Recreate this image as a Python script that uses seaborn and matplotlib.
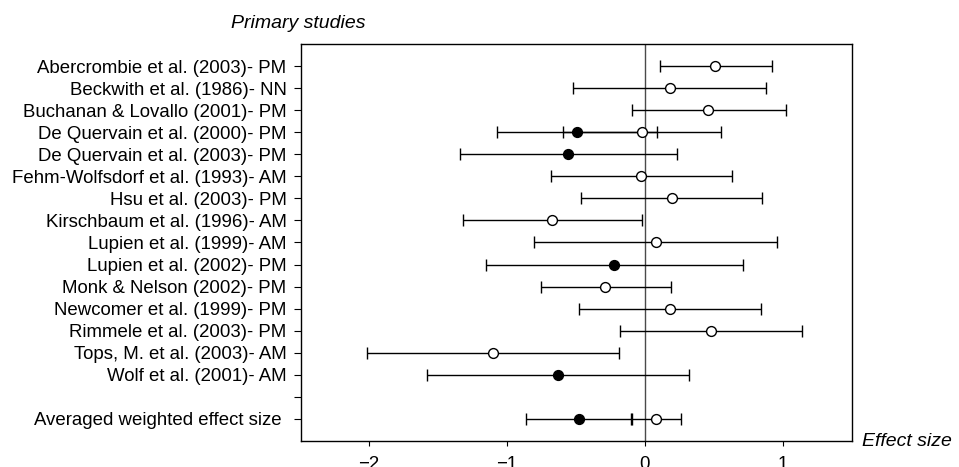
import numpy as np
import pandas as pd
import matplotlib
matplotlib.use("Agg")
import matplotlib.pyplot as plt
import seaborn as sns

nan = np.nan

labels = [
    "Abercrombie et al. (2003)- PM",
    "Beckwith et al. (1986)- NN",
    "Buchanan & Lovallo (2001)- PM",
    "De Quervain et al. (2000)- PM",
    "De Quervain et al. (2003)- PM",
    "Fehm-Wolfsdorf et al. (1993)- AM",
    "Hsu et al. (2003)- PM",
    "Kirschbaum et al. (1996)- AM",
    "Lupien et al. (1999)- AM",
    "Lupien et al. (2002)- PM",
    "Monk & Nelson (2002)- PM",
    "Newcomer et al. (1999)- PM",
    "Rimmele et al. (2003)- PM",
    "Tops, M. et al. (2003)- AM",
    "Wolf et al. (2001)- AM",
    "",
    "Averaged weighted effect size ",
]

open_est = [0.51, 0.18, 0.46, -0.02, nan, -0.03, 0.20, -0.67, 0.08, nan, -0.29, 0.18, 0.48, -1.10, nan, nan, 0.08]
open_lo = [0.11, -0.52, -0.09, -0.59, nan, -0.68, -0.46, -1.32, -0.80, nan, -0.75, -0.48, -0.18, -2.01, nan, nan, -0.09]
open_hi = [0.92, 0.88, 1.02, 0.55, nan, 0.63, 0.85, -0.02, 0.96, nan, 0.19, 0.84, 1.14, -0.19, nan, nan, 0.26]

filled_est = [nan, nan, nan, -0.49, -0.56, nan, nan, nan, nan, -0.22, nan, nan, nan, nan, -0.63, nan, -0.48]
filled_lo = [nan, nan, nan, -1.07, -1.34, nan, nan, nan, nan, -1.15, nan, nan, nan, nan, -1.58, nan, -0.86]
filled_hi = [nan, nan, nan, 0.09, 0.23, nan, nan, nan, nan, 0.71, nan, nan, nan, nan, 0.32, nan, -0.10]

xticks = [-2, -1, 0, 1]
xticklabels = ["\u22122", "\u22121", "0", "1"]

sns.set_style("ticks")
plt.rcParams['font.family'] = ['Liberation Sans', 'DejaVu Sans']
plt.rcParams['text.color'] = 'black'

fig = plt.figure(figsize=(9.59, 4.67), dpi=100)
ax = fig.add_axes([0.3139, 0.0557, 0.8884 - 0.3139, 0.9058 - 0.0557])

pos = np.arange(1, len(labels) + 1)
df_open = pd.DataFrame({"pos": pos, "est": open_est, "lo": open_lo, "hi": open_hi}).dropna()
df_fill = pd.DataFrame({"pos": pos, "est": filled_est, "lo": filled_lo, "hi": filled_hi}).dropna()

ax.axvline(0, color="#4a4a4a", lw=1.0, zorder=1)

for d in (df_open, df_fill):
    ax.errorbar(d["est"], d["pos"], xerr=[d["est"] - d["lo"], d["hi"] - d["est"]],
                fmt="none", ecolor="black", elinewidth=1.0, capsize=4, capthick=1.0, zorder=2)

sns.scatterplot(data=df_open, x="est", y="pos", ax=ax, marker="o", s=50,
                facecolor="white", edgecolor="black", linewidth=1.0, zorder=3)
sns.scatterplot(data=df_fill, x="est", y="pos", ax=ax, marker="o", s=50,
                color="black", edgecolor="black", linewidth=1.0, zorder=3)

ax.set_xlim(-2.49, 1.50)
ax.set_ylim(len(labels) + 1, 0)
ax.set_xticks(xticks)
ax.set_xticklabels(xticklabels)
ax.set_yticks(pos)
ax.set_yticklabels(labels)
ax.set_xlabel("")
ax.set_ylabel("")

for s in ax.spines.values():
    s.set_visible(True)
    s.set_color("black")
    s.set_linewidth(1.0)

ax.tick_params(axis="y", length=5, width=0.8, pad=5.5, labelsize=13.4,
               colors="black", labelcolor="black")
ax.tick_params(axis="x", length=3.5, width=0.8, pad=7, labelsize=13.4,
               colors="black", labelcolor="black")

fig.text(231 / 959, 1 - 23 / 467, "Primary studies", fontsize=14, style="italic",
         ha="left", va="center", color="black")
fig.text(862 / 959, 1 - 441 / 467, "Effect size", fontsize=14, style="italic",
         ha="left", va="center", color="black")

fig.savefig("out.png", dpi=100)
